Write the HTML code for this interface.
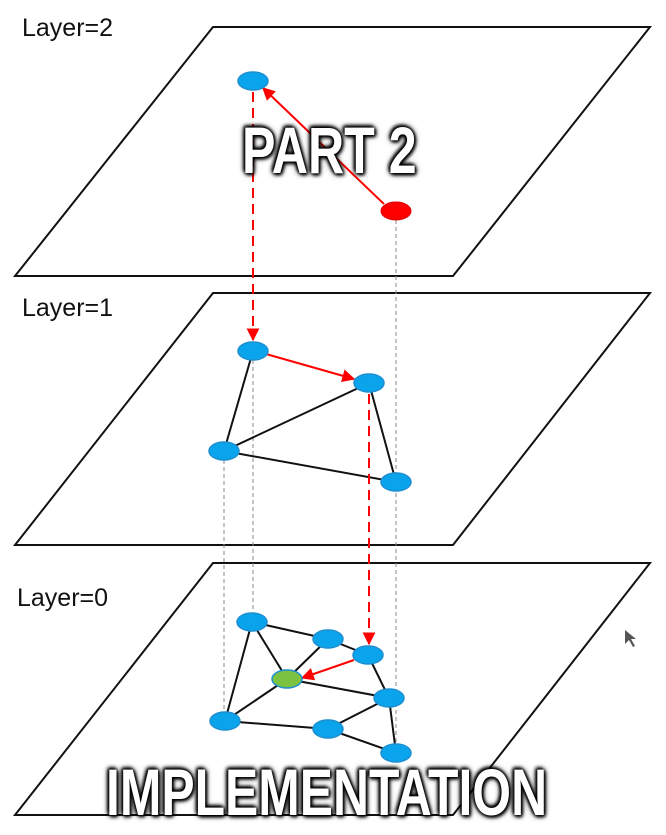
<!DOCTYPE html>
<html><head><meta charset="utf-8"><style>
html,body{margin:0;padding:0;background:#fff;}
body{width:666px;height:835px;position:relative;overflow:hidden;}
svg{position:absolute;left:0;top:0;}
.lbl{position:absolute;font-family:"Liberation Sans",sans-serif;font-size:25px;color:#111;}
.meme{position:absolute;font-family:"Liberation Sans Narrow","Liberation Sans",sans-serif;font-weight:bold;color:#fff;white-space:nowrap;transform-origin:0 0;
text-shadow:0 0 3px #000,0 0 5px #000,0 0 8px #000,2px 2px 4px #000,-2px -2px 4px #000;line-height:1;}
</style></head><body>
<svg width="666" height="835" viewBox="0 0 666 835">
<defs>
<marker id="ar" viewBox="0 0 10 10" refX="9" refY="5" markerWidth="6.5" markerHeight="6.5" orient="auto"><path d="M0,0L10,5L0,10z" fill="#f00"/></marker>
</defs>
<g fill="none" stroke="#111" stroke-width="2">
<polygon points="213,27 650,27 453,276 15,276"/>
<polygon points="213,293 650,293 453,545 15,545"/>
<polygon points="213,563 650,563 453,815 15,815"/>
</g>
<g stroke="#888" stroke-width="1" stroke-dasharray="4,3">
<line x1="396" y1="220" x2="396" y2="745"/>
<line x1="224" y1="460" x2="224" y2="712"/>
<line x1="253" y1="360" x2="253" y2="612"/>
</g>
<g stroke="#111" stroke-width="2">
<line x1="253" y1="351" x2="224" y2="451"/>
<line x1="224" y1="451" x2="369" y2="383"/>
<line x1="224" y1="451" x2="396" y2="482"/>
<line x1="369" y1="383" x2="396" y2="482"/>
<line x1="252" y1="622" x2="328" y2="639"/>
<line x1="328" y1="639" x2="368" y2="655"/>
<line x1="252" y1="622" x2="287" y2="679"/>
<line x1="252" y1="622" x2="225" y2="721"/>
<line x1="328" y1="639" x2="287" y2="679"/>
<line x1="287" y1="679" x2="389" y2="698"/>
<line x1="225" y1="721" x2="287" y2="679"/>
<line x1="225" y1="721" x2="328" y2="729"/>
<line x1="328" y1="729" x2="389" y2="698"/>
<line x1="328" y1="729" x2="396" y2="753"/>
<line x1="389" y1="698" x2="396" y2="753"/>
<line x1="368" y1="655" x2="389" y2="698"/>
</g>
<g stroke="#f00" stroke-width="2" fill="none">
<line x1="253" y1="92" x2="253" y2="340" stroke-dasharray="10,6" marker-end="url(#ar)"/>
<line x1="369" y1="394" x2="369" y2="644" stroke-dasharray="10,6" marker-end="url(#ar)"/>
<line x1="384" y1="204" x2="263" y2="88" marker-end="url(#ar)"/>
<line x1="266" y1="354" x2="354" y2="379" marker-end="url(#ar)"/>
<line x1="354" y1="660" x2="302" y2="678" marker-end="url(#ar)"/>
</g>
<g fill="#0aa4ec" stroke="#1d8fd0" stroke-width="1.5">
<ellipse cx="253" cy="81" rx="15" ry="9"/>
<ellipse cx="253" cy="351" rx="15" ry="9"/>
<ellipse cx="369" cy="383" rx="15" ry="9"/>
<ellipse cx="224" cy="451" rx="15" ry="9"/>
<ellipse cx="396" cy="482" rx="15" ry="9"/>
<ellipse cx="252" cy="622" rx="15" ry="9"/>
<ellipse cx="328" cy="639" rx="15" ry="9"/>
<ellipse cx="368" cy="655" rx="15" ry="9"/>
<ellipse cx="389" cy="698" rx="15" ry="9"/>
<ellipse cx="225" cy="721" rx="15" ry="9"/>
<ellipse cx="328" cy="729" rx="15" ry="9"/>
<ellipse cx="396" cy="753" rx="15" ry="9"/>
</g>
<ellipse cx="287" cy="679" rx="15" ry="9" fill="#7cc242" stroke="#1d8fd0" stroke-width="1.5"/>
<ellipse cx="396" cy="211" rx="15" ry="9" fill="#f00" stroke="#d00" stroke-width="1"/>
<path d="M625,630 L625,644 L629,640 L633,647 L635,646 L631,639 L636,639 Z" fill="#555"/>
</svg>
<div class="lbl" style="left:22px;top:14px;">Layer=2</div>
<div class="lbl" style="left:22px;top:294px;">Layer=1</div>
<div class="lbl" style="left:17px;top:584px;">Layer=0</div>
<div class="meme" style="left:242px;top:117px;font-size:66px;transform:scaleX(0.76);">PART 2</div>
<div class="meme" style="left:106px;top:759px;font-size:66px;transform:scaleX(0.755);">IMPLEMENTATION</div>
</body></html>
